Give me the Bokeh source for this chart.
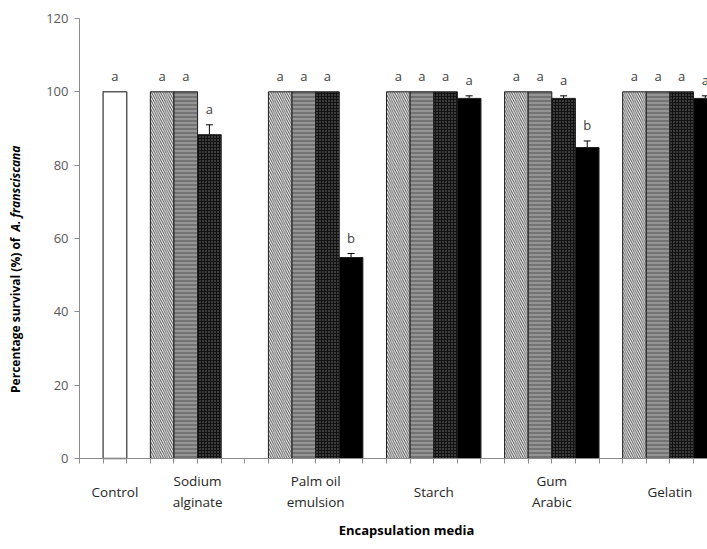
import math
from bokeh.plotting import figure
from bokeh.models import ColumnDataSource, FixedTicker, Whisker, TeeHead, Range1d
from bokeh.core.properties import value
from bokeh.embed import file_html
from bokeh.resources import INLINE

# ---------------- data ----------------
control_label = "Control"
control_value = 100
control_letter = "a"

groups = ["Sodium\nalginate", "Palm oil\nemulsion", "Starch", "Gum\nArabic", "Gelatin"]

s1_vals = [100, 100, 100, 100, 100]
s1_err = [0, 0, 0, 0, 0]
s1_let = ["a", "a", "a", "a", "a"]

s2_vals = [100, 100, 100, 100, 100]
s2_err = [0, 0, 0, 0, 0]
s2_let = ["a", "a", "a", "a", "a"]

s3_vals = [88.3, 100, 100, 98.2, 100]
s3_err = [2.7, 0, 0, 0.7, 0]
s3_let = ["a", "a", "a", "a", "a"]

s4_vals = [None, 54.8, 98.2, 84.8, 98.2]
s4_err = [None, 1.1, 0.7, 1.8, 0.7]
s4_let = [None, "b", "a", "b", "a"]

y_ticks = [0, 20, 40, 60, 80, 100, 120]
x_title = "Encapsulation media"
y_title_a = "Percentage survival (%) of"
y_title_b = "A. fransciscana"

# ---------------- layout constants ----------------
FONT = "Open Sans"
W, H = 707, 549
AXIS_X0 = 79          # pixel column of the y axis
AXIS_Y0 = 458         # pixel row of the x axis
SLOT_PX = 23.615      # width of one bar slot in pixels
Y_MAX = 120
Y_PX = 3.667          # pixels per percent
N_SLOTS = 27

x_start = -AXIS_X0 / SLOT_PX
x_end = (W - AXIS_X0) / SLOT_PX
y_start = -(H - AXIS_Y0) / Y_PX
y_end = AXIS_Y0 / Y_PX
XU = 1 / SLOT_PX      # data units per horizontal pixel
YU = 1 / Y_PX         # data units per vertical pixel

p = figure(width=W, height=H, output_backend="svg", toolbar_location=None,
           x_range=Range1d(x_start, x_end), y_range=Range1d(y_start, y_end),
           min_border_left=0, min_border_right=0, min_border_top=0,
           min_border_bottom=0)
p.outline_line_color = None
p.xgrid.visible = False
p.ygrid.visible = False
p.background_fill_color = "white"
p.border_fill_color = "white"

styles = [
    dict(fill_color="white", hatch_pattern="left_diagonal_line", hatch_color="#4d4d4d",
         hatch_scale=4.5, hatch_weight=1.0),
    dict(fill_color="#737373", hatch_pattern="horizontal_line", hatch_color="#bdbdbd",
         hatch_scale=4, hatch_weight=0.9),
    dict(fill_color="#121212", hatch_pattern="dot", hatch_color="#7a7a7a",
         hatch_scale=3, hatch_weight=1.0),
    dict(fill_color="black"),
]

series = [(s1_vals, s1_err, s1_let), (s2_vals, s2_err, s2_let),
          (s3_vals, s3_err, s3_let), (s4_vals, s4_err, s4_let)]

LET_KW = dict(text_align="center", text_baseline="bottom", y_offset=-7,
              text_font=value(FONT), text_font_size="13px", text_color="#404040")

# control bar
csrc = ColumnDataSource(dict(x=[1.5], top=[control_value], lab=[control_letter]))
p.vbar(x="x", top="top", width=1.0, bottom=0, source=csrc, fill_color="white",
       line_color="#5a5a5a", line_width=1.5)
p.text(x="x", y="top", text="lab", source=csrc, **LET_KW)

group_starts = [3 + 5 * k for k in range(len(groups))]

for j, (vals, errs, lets) in enumerate(series):
    xs, tops, es, ls = [], [], [], []
    for k, v in enumerate(vals):
        if v is None:
            continue
        xs.append(group_starts[k] + j + 0.5)
        tops.append(v)
        es.append(errs[k])
        ls.append(lets[k])
    src = ColumnDataSource(dict(x=xs, top=tops, lab=ls,
                                upper=[t + e for t, e in zip(tops, es)]))
    p.vbar(x="x", top="top", width=1.0, bottom=0, source=src,
           line_color="#1e1e1e", line_width=1, **styles[j])
    ex = [x for x, e in zip(xs, es) if e > 0]
    et = [t for t, e in zip(tops, es) if e > 0]
    eu = [t + e for t, e in zip(tops, es) if e > 0]
    if ex:
        esrc = ColumnDataSource(dict(x=ex, lower=et, upper=eu))
        p.add_layout(Whisker(source=esrc, base="x", lower="lower", upper="upper",
                             line_color="black", line_width=1,
                             upper_head=TeeHead(size=7, line_color="black", line_width=1),
                             lower_head=None))
    p.text(x="x", y="upper", text="lab", source=src, **LET_KW)

# ---------------- axes (fixed at data zero) ----------------
AXIS_COLOR = "#8c8c8c"
yax = p.yaxis[0]
yax.fixed_location = 0
yax.bounds = (0, Y_MAX)
yax.ticker = FixedTicker(ticks=y_ticks)
yax.axis_line_color = AXIS_COLOR
yax.major_tick_line_color = AXIS_COLOR
yax.major_tick_out = 5
yax.major_tick_in = 0
yax.minor_tick_line_color = None
yax.major_label_standoff = 6
yax.major_label_text_font = FONT
yax.major_label_text_font_size = "13px"
yax.major_label_text_color = "#595959"

xax = p.xaxis[0]
xax.fixed_location = 0
xax.bounds = (0, N_SLOTS)
xax.ticker = FixedTicker(ticks=list(range(0, N_SLOTS + 1)))
xax.axis_line_color = AXIS_COLOR
xax.major_tick_line_color = AXIS_COLOR
xax.major_tick_out = 5
xax.major_tick_in = 0
xax.minor_tick_line_color = None
xax.major_label_text_font_size = "0px"
xax.major_label_text_alpha = 0

# ---------------- category labels ----------------
cat_centers = [1.5] + [s + 2 for s in group_starts]
cat_texts = [control_label] + groups
cx_list, cy_list, ct_list = [], [], []
for cx, txt in zip(cat_centers, cat_texts):
    lines = txt.split("\n")
    n = len(lines)
    for i, line in enumerate(lines):
        off_px = 33 + (i - (n - 1) / 2) * 21
        cx_list.append(cx)
        cy_list.append(-off_px * YU)
        ct_list.append(line)
p.text(x=cx_list, y=cy_list, text=ct_list, text_align="center",
       text_baseline="middle", text_font=value(FONT), text_font_size="13.5px",
       text_color="#262626")

# x title
p.text(x=[(406 - AXIS_X0) * XU], y=[-71 * YU], text=[x_title], text_align="center",
       text_baseline="middle", text_font=value(FONT), text_font_size="13px",
       text_font_style="bold", text_color="black")

# y title (plain part + italic species name)
ytx = (15 - AXIS_X0) * XU
p.text(x=[ytx], y=[(AXIS_Y0 - 237) * YU], text=[y_title_a], angle=math.pi / 2,
       text_align="right", text_baseline="middle", text_font=value(FONT),
       text_font_size="12px", text_font_style="bold", text_color="black")
p.text(x=[ytx], y=[(AXIS_Y0 - 231) * YU], text=[y_title_b], angle=math.pi / 2,
       text_align="left", text_baseline="middle", text_font=value(FONT),
       text_font_size="12px", text_font_style="bold italic", text_color="black")

open("out.html", "w").write(file_html(p, INLINE))
